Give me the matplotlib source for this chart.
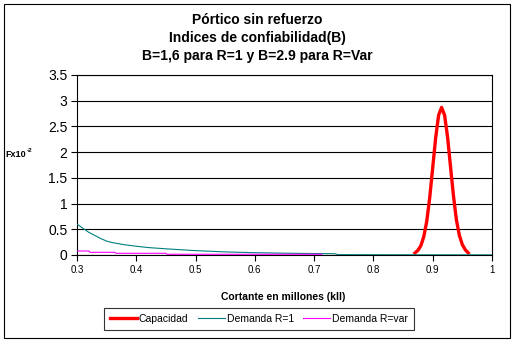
import matplotlib
matplotlib.use('Agg')
import matplotlib.pyplot as plt
from matplotlib.patches import Rectangle

plt.rcParams['font.family'] = ['Liberation Sans', 'DejaVu Sans']

# Capacidad (red bell curve)
cap_x = [0.870, 0.875, 0.880, 0.885, 0.890, 0.895, 0.900, 0.905, 0.910, 0.915,
         0.920, 0.925, 0.930, 0.935, 0.940, 0.945, 0.950, 0.955, 0.960]
cap_y = [0.04, 0.09, 0.18, 0.36, 0.66, 1.12, 1.70, 2.28, 2.72, 2.87,
         2.72, 2.30, 1.72, 1.15, 0.68, 0.38, 0.20, 0.10, 0.04]

# Demanda R=1 (teal)
r1_x = [0.30, 0.31, 0.32, 0.33, 0.34, 0.35, 0.36, 0.38, 0.40, 0.42, 0.45,
        0.50, 0.55, 0.60, 0.65, 0.70, 0.735, 0.74, 0.80, 0.90, 1.00]
r1_y = [0.60, 0.52, 0.44, 0.38, 0.32, 0.27, 0.24, 0.20, 0.17, 0.145, 0.12,
        0.085, 0.06, 0.045, 0.035, 0.028, 0.025, 0.008, 0.006, 0.004, 0.003]

# Demanda R=var (magenta)
rv_x = [0.30, 0.32, 0.322, 0.364, 0.366, 0.45, 0.452, 0.713]
rv_y = [0.078, 0.078, 0.052, 0.052, 0.033, 0.033, 0.014, 0.014]

fig = plt.figure(figsize=(5.15, 3.44), dpi=100)
fig.patch.set_facecolor('white')

# chart area border
fig.patches.append(Rectangle((4 / 515, 1 - 338 / 344), 506 / 515, 334 / 344,
                             transform=fig.transFigure, fill=False,
                             edgecolor='black', linewidth=0.8))

ax = fig.add_axes([77 / 515, 1 - 255 / 344, 415 / 515, 180 / 344])
ax.plot(cap_x, cap_y, color='#FF0000', linewidth=2.4, label='Capacidad', zorder=3)
ax.plot(r1_x, r1_y, color='#008080', linewidth=0.8, label='Demanda R=1', zorder=4)
ax.plot(rv_x, rv_y, color='#FF00FF', linewidth=0.8, label='Demanda R=var', zorder=5)

ax.set_xlim(0.3, 1.0)
ax.set_ylim(0, 3.5)
ax.set_xticks([0.3, 0.4, 0.5, 0.6, 0.7, 0.8, 0.9, 1.0])
ax.set_xticklabels(['0.3', '0.4', '0.5', '0.6', '0.7', '0.8', '0.9', '1'], fontsize=7)
ax.set_yticks([0, 0.5, 1, 1.5, 2, 2.5, 3, 3.5])
ax.set_yticklabels(['0', '0.5', '1', '1.5', '2', '2.5', '3', '3.5'], fontsize=10)
ax.tick_params(axis='both', direction='out', length=4, width=0.8, color='black', pad=3)
ax.yaxis.grid(True, color='black', linewidth=0.8)
ax.set_axisbelow(True)
for s in ax.spines.values():
    s.set_color('black')
    s.set_linewidth(0.8)

fig.text(283 / 515, 1 - 297 / 344, 'Cortante en millones (kll)', fontsize=7.5,
         fontweight='bold', ha='center', va='center')

fig.text(5 / 515, 1 - 157 / 344, 'Fx10', fontsize=6.5, fontweight='bold', va='baseline', ha='left')
fig.text(26.5 / 515, 1 - 152 / 344, '-2', fontsize=4.5, fontweight='bold', va='baseline', ha='left')

fig.text(257 / 515, 1 - 20 / 344, 'Pórtico sin refuerzo', fontsize=10, fontweight='bold', ha='center', va='center')
fig.text(257 / 515, 1 - 38 / 344, 'Indices de confiabilidad(B)', fontsize=10, fontweight='bold', ha='center', va='center')
fig.text(257 / 515, 1 - 56 / 344, 'B=1,6 para R=1 y B=2.9 para R=Var', fontsize=10, fontweight='bold', ha='center', va='center')

leg = fig.legend(loc='center', bbox_to_anchor=(259 / 515, 1 - 319 / 344), ncol=3,
                 fontsize=7.5, frameon=True, fancybox=False, edgecolor='black',
                 handlelength=2.6, handletextpad=0.15, columnspacing=0.9,
                 borderpad=0.6)
leg.get_frame().set_linewidth(0.8)

fig.savefig('out.png', dpi=100, facecolor='white')
